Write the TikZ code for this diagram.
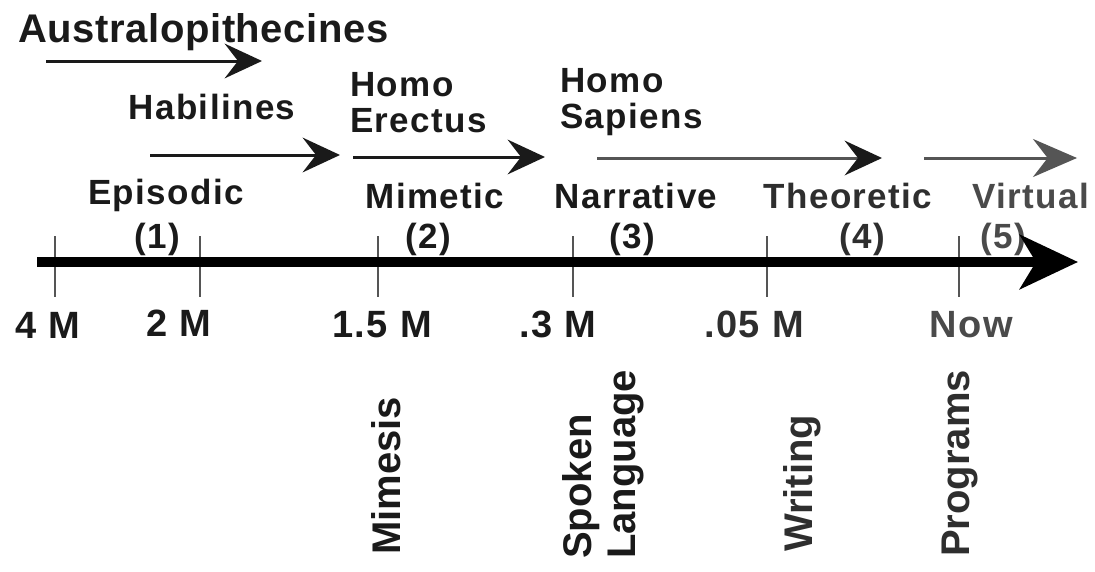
\documentclass[tikz,border=0pt]{standalone}
\usepackage{fontspec}
\setmainfont{Liberation Sans}
\newfontfamily\lblfont[LetterSpace=4]{Liberation Sans}
\newfontfamily\bigfont[LetterSpace=1.5]{Liberation Sans}
\newfontfamily\vfont{Liberation Sans}
\usetikzlibrary{arrows.meta}
\definecolor{ink}{HTML}{1A1A1A}
\definecolor{inktwo}{HTML}{2E2E2E}
\definecolor{inkthree}{HTML}{4A4A4A}
\definecolor{arrowgray}{HTML}{555555}
\definecolor{tickgray}{HTML}{555555}
\begin{document}
\begin{tikzpicture}[x=0.75pt,y=-0.75pt,
  lbl/.style={inner sep=0pt, text=ink, font=\lblfont\bfseries\fontsize{26.25}{27.4}\selectfont},
  ticklbl/.style={inner sep=0pt, text=ink, font=\lblfont\bfseries\fontsize{28.5}{30}\selectfont},
  biglbl/.style={inner sep=0pt, text=ink, font=\bigfont\bfseries\fontsize{30}{33}\selectfont},
  vlbl/.style={inner sep=0pt, rotate=90, text=ink, font=\vfont\bfseries\fontsize{30}{33}\selectfont},
  evo/.style={line width=2.25pt, draw=ink, -{Stealth[length=28pt,width=26pt,inset=10pt]}},
  axisline/.style={line width=7.5pt, draw=black, -{Stealth[length=43.5pt,width=40.5pt,inset=12pt]}},
  tickline/.style={line width=1.5pt, draw=tickgray}]
\fill[white] (0,0) rectangle (1095,571);
\useasboundingbox (0,0) rectangle (1095,571);

% evolution arrows
\coordinate (a1s) at (46,61);  \coordinate (a1e) at (262,61);
\coordinate (a2s) at (150,155); \coordinate (a2e) at (340,155);
\coordinate (a3s) at (353,157); \coordinate (a3e) at (545,157);
\coordinate (a4s) at (597,158); \coordinate (a4e) at (882,158);
\coordinate (a5s) at (924,158); \coordinate (a5e) at (1077,158);
\draw[evo] (a1s) -- (a1e);
\draw[evo] (a2s) -- (a2e);
\draw[evo] (a3s) -- (a3e);
\draw[evo, draw=arrowgray, -{Stealth[length=28pt,width=26pt,inset=10pt,color=ink]}] (a4s) -- (a4e);
\draw[evo, draw=arrowgray, -{Stealth[length=33pt,width=28.5pt,inset=11pt,color=arrowgray]}] (a5s) -- (a5e);

% species labels
\node[biglbl, anchor=base west] (aus) at (18,42) {Australopithecines};
\node[lbl, anchor=base] (hab) at (212,119) {Habilines};
\node[lbl, align=left, anchor=north west] (ere) at (350,72) {Homo\\Erectus};
\node[lbl, align=left, anchor=north west] (sap) at (560,68) {Homo\\Sapiens};

% stage labels
\node[lbl, anchor=base] (epi) at (166,204) {Episodic};
\node[lbl, anchor=base] (n1) at (157,248) {(1)};
\node[lbl, anchor=base] (mim) at (435,208) {Mimetic};
\node[lbl, anchor=base] (n2) at (428,248) {(2)};
\node[lbl, anchor=base] (nar) at (636,208) {Narrative};
\node[lbl, anchor=base] (n3) at (632,248) {(3)};
\node[lbl, anchor=base, text=inktwo] (the) at (848,208) {Theoretic};
\node[lbl, anchor=base, text=inktwo] (n4) at (862,248) {(4)};
\node[lbl, anchor=base west, text=inkthree] (vir) at (972,208) {Virtual};
\node[lbl, anchor=base, text=inkthree] (n5) at (1003,248) {(5)};

% ticks
\foreach \n/\x in {t1/55, t2/200, t3/378, t4/573, t5/767, t6/959} {
  \coordinate (\n top) at (\x,236);
  \coordinate (\n bot) at (\x,297);
  \draw[tickline] (\n top) -- (\n bot);
}

% time axis
\coordinate (axs) at (37,262);
\coordinate (axe) at (1078,262);
\draw[axisline] (axs) -- (axe);

% tick labels
\node[ticklbl, anchor=base] (l1) at (48,338) {4 M};
\node[ticklbl, anchor=base] (l2) at (179,336) {2 M};
\node[ticklbl, anchor=base] (l3) at (382,337) {1.5 M};
\node[ticklbl, anchor=base] (l4) at (558,337) {.3 M};
\node[ticklbl, anchor=base, text=inktwo] (l5) at (754,337) {.05 M};
\node[ticklbl, anchor=base, text=inkthree] (l6) at (971,337) {Now};

% media labels
\node[vlbl, anchor=base west] (mime) at (400,555) {Mimesis};
\node[vlbl, anchor=north west, align=left] (spk) at (562,559) {Spoken\\Language};
\node[vlbl, anchor=base west, text=inktwo] (wri) at (812,552) {Writing};
\node[vlbl, anchor=base west, text=inktwo] (prg) at (969,557) {Programs};
\end{tikzpicture}
\end{document}
